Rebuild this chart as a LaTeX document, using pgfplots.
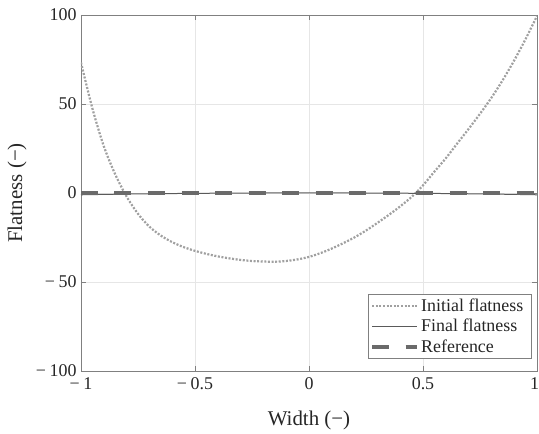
\documentclass[border=0pt]{standalone}
\usepackage{pgfplots}
\pgfplotsset{compat=1.18}
\usepackage{fontspec}
\setmainfont{Liberation Serif}

\definecolor{initcol}{HTML}{A0A0A0}
\definecolor{finalcol}{HTML}{5A5A5A}
\definecolor{refcol}{HTML}{6A6A6A}
\definecolor{axiscol}{HTML}{808080}
\definecolor{gridcol}{HTML}{E6E6E6}

\newcommand{\mn}{−\hspace{0.2em}}

% initial flatness profile across the strip width
\pgfplotstableread{
x y
-1.00 73.3
-0.95 47.5
-0.90 26.3
-0.85 10.5
-0.80 -2.0
-0.75 -11.7
-0.70 -18.9
-0.65 -23.9
-0.60 -27.6
-0.55 -30.4
-0.50 -32.5
-0.45 -34.2
-0.40 -35.6
-0.35 -36.7
-0.30 -37.6
-0.25 -38.2
-0.20 -38.5
-0.15 -38.6
-0.10 -38.2
-0.05 -37.3
0.00 -35.9
0.05 -33.8
0.10 -31.2
0.15 -28.2
0.20 -24.9
0.25 -21.1
0.30 -16.8
0.35 -12.3
0.40 -7.5
0.45 -2.2
0.50 4.3
0.55 12.0
0.60 19.5
0.65 27.8
0.70 36.0
0.75 44.5
0.80 53.5
0.85 63.5
0.90 74.5
0.95 86.5
1.00 99.5
}\initialdata

% final flatness after control
\pgfplotstableread{
x y
-1.00 -1.0
-0.75 -0.5
-0.50 -0.2
-0.25 0.0
0.00 0.1
0.25 0.0
0.50 -0.2
0.75 -0.5
1.00 -1.0
}\finaldata

% reference (target) flatness
\pgfplotstableread{
x y
-1.00 0
1.00 0
}\refdata

\begin{document}
\begin{tikzpicture}
\begin{axis}[
  at={(0,0)}, anchor=south west,
  scale only axis,
  width=456bp, height=356bp,
  xmin=-1, xmax=1, ymin=-100, ymax=100,
  xtick={-1,-0.5,0,0.5,1},
  xticklabels={\mn 1,\mn 0.5,0,0.5,\makebox[0pt]{\hspace*{-5bp}1}},
  ytick={-100,-50,0,50,100},
  yticklabels={\mn 100,\mn 50,0,50,100},
  tick label style={font=\fontsize{18}{21}\selectfont, text=black!85},
  xticklabel style={yshift=-3bp},
  yticklabel style={xshift=-1bp},
  tick align=inside,
  major tick length=5bp,
  axis line style={axiscol, line width=0.8bp},
  every tick/.style={axiscol, line width=0.8bp},
  grid=major,
  major grid style={gridcol, line width=0.6bp},
  xlabel={Width (−)},
  ylabel={Flatness (−)},
  label style={font=\fontsize{21}{24}\selectfont, text=black!85},
  xlabel style={at={(axis description cs:0.5,-0.1376)}, anchor=center},
  ylabel style={at={(axis description cs:-0.140,0.5)}, anchor=center},
  legend style={
    at={(rel axis cs:0.988,0.034)}, anchor=south east,
    draw=axiscol, line width=0.6bp, fill=white,
    font=\fontsize{18}{20}\selectfont,
    inner xsep=2bp, inner ysep=3bp,
    row sep=3.5bp,
    nodes={inner ysep=1.5bp},
    cells={anchor=west, text=black!85},
  },
  legend cell align=left,
  legend image code/.code={
    \draw[#1] (0bp,0bp) -- (45bp,0bp);
  },
]
\addplot[initcol, line width=2.2bp, dash pattern=on 2bp off 1.6bp, smooth]
  table[x=x, y=y] {\initialdata};
\addlegendentry{\makebox[106bp][l]{Initial flatness}}
\addplot[finalcol, line width=1bp, smooth]
  table[x=x, y=y] {\finaldata};
\addlegendentry{Final flatness}
\addplot[refcol, line width=4bp, dash pattern=on 17bp off 16.5bp]
  table[x=x, y=y] {\refdata};
\addlegendentry{Reference}
\end{axis}
\pgfresetboundingbox
\useasboundingbox (-81bp,-63bp) rectangle (458bp,371bp);
\end{tikzpicture}
\end{document}
